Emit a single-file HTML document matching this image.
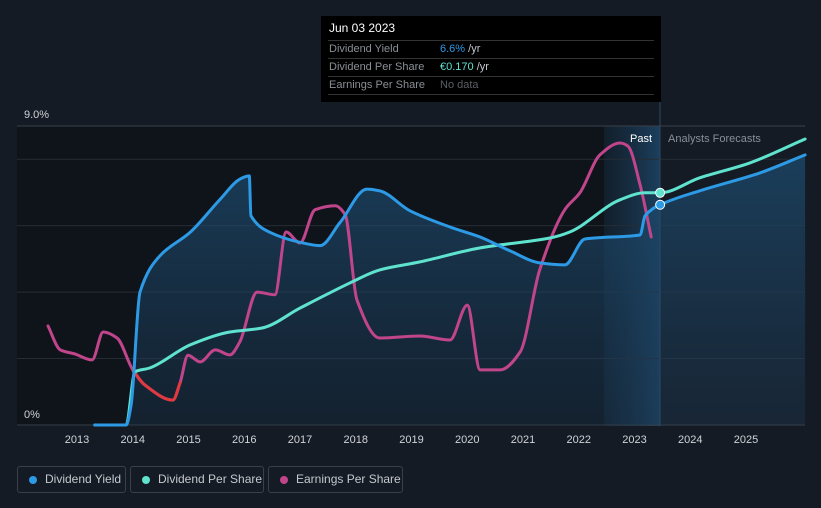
<!DOCTYPE html>
<html><head><meta charset="utf-8">
<style>
html,body{margin:0;padding:0;background:#151b24;}
body{width:821px;height:508px;overflow:hidden;font-family:"Liberation Sans",sans-serif;position:relative;}
.tt{position:absolute;left:321px;top:16px;width:340px;height:86px;background:#000;box-sizing:border-box;padding:0 7px;}
.tt .h{color:#fff;font-size:12px;height:24px;line-height:24px;border-bottom:1px solid #333;padding-left:1px;}
.tt .r{font-size:11px;color:#8a8f96;height:17px;line-height:17px;border-bottom:1px solid #333;display:flex;padding-left:1px;}
.tt .r span.l{width:111px;}
.leg{position:absolute;top:466px;height:27px;border:1px solid #3a4049;border-radius:3px;box-sizing:border-box;color:#c5c9ce;font-size:12px;line-height:25px;padding-left:27px;white-space:nowrap;}
.leg i{position:absolute;left:11px;top:9px;width:8px;height:8px;border-radius:50%;}
</style></head><body>
<svg id="chart" width="821" height="508" style="position:absolute;left:0;top:0">
<defs>
<linearGradient id="fillg" x1="0" y1="0" x2="0" y2="1"><stop offset="0" stop-color="#1c4a6e" stop-opacity="0.75"/><stop offset="1" stop-color="#1c3a55" stop-opacity="0.35"/></linearGradient>
<linearGradient id="hl" x1="0" y1="0" x2="1" y2="0"><stop offset="0" stop-color="#1a3a55" stop-opacity="0.3"/><stop offset="1" stop-color="#1f4a6e" stop-opacity="0.8"/></linearGradient>
</defs>
<rect x="17" y="126" width="643" height="300" fill="#0f141b"/>
<rect x="604" y="126" width="56" height="300" fill="url(#hl)"/>
<g id="grid"></g>
<g id="marks"></g>
<text x="24" y="118" fill="#d0d3d7" font-size="11">9.0%</text>
<text x="24" y="418" fill="#d0d3d7" font-size="11">0%</text>
<text x="652" y="142" fill="#ffffff" font-size="11" text-anchor="end">Past</text>
<text x="668" y="142" fill="#8a8f96" font-size="11">Analysts Forecasts</text>
<g id="xticks"></g>
</svg>
<div class="tt">
<div class="h">Jun 03 2023</div>
<div class="r"><span class="l">Dividend Yield</span><span><span style="color:#2d9ae6">6.6%</span> <span style="color:#c5c9ce">/yr</span></span></div>
<div class="r"><span class="l">Dividend Per Share</span><span><span style="color:#5fe3cf">€0.170</span> <span style="color:#c5c9ce">/yr</span></span></div>
<div class="r"><span class="l">Earnings Per Share</span><span style="color:#5a5f66">No data</span></div>
</div>
<div class="leg" style="left:17px;width:109px"><i style="background:#2d9ae6"></i>Dividend Yield</div>
<div class="leg" style="left:130px;width:134px"><i style="background:#5fe3cf"></i>Dividend Per Share</div>
<div class="leg" style="left:268px;width:135px"><i style="background:#c1458b"></i>Earnings Per Share</div>
<script>
const xTicks=[2013,2014,2015,2016,2017,2018,2019,2020,2021,2022,2023,2024,2025];
const gridValues=[0,2,4,6,8,9];
const yieldYears=[2013.32,2013.88,2013.97,2014.13,2014.49,2015.03,2015.57,2015.92,2016.09,2016.12,2016.46,2017.0,2017.36,2017.72,2018.2,2018.43,2018.97,2019.69,2020.23,2020.77,2021.3,2021.75,2022.11,2023.1,2023.19,2023.46,2024.17,2025.25,2026.06];
const yieldValues=[0,0,0.6,4.0,5.1,5.8,6.8,7.4,7.5,6.3,5.8,5.5,5.4,6.1,7.1,7.05,6.45,5.96,5.66,5.24,4.88,4.82,5.6,5.72,6.3,6.63,7.05,7.59,8.13];
const dpsYears=[2013.32,2013.88,2014.04,2014.31,2015.03,2015.74,2016.32,2017.0,2017.9,2018.43,2019.15,2020.23,2021.48,2021.84,2022.74,2023.19,2023.46,2024.17,2025.07,2026.06];
const dpsValues=[0,0,1.6,1.72,2.41,2.8,2.92,3.52,4.28,4.67,4.91,5.33,5.63,5.81,6.78,6.99,6.99,7.44,7.89,8.61];
const epsYears=[2012.48,2012.7,2012.96,2013.27,2013.47,2013.72,2014.0,2014.22,2014.72,2014.85,2014.99,2015.21,2015.48,2015.74,2015.92,2016.23,2016.55,2016.75,2017.0,2017.27,2017.63,2017.81,2018.02,2018.43,2019.15,2019.69,2020.0,2020.23,2020.59,2020.95,2021.3,2021.75,2022.02,2022.38,2022.74,2022.88,2023.1,2023.3];
const epsValues=[2.98,2.26,2.14,1.96,2.8,2.62,1.66,1.2,0.75,1.27,2.1,1.9,2.26,2.11,2.5,4.0,3.92,5.81,5.48,6.48,6.6,6.33,3.77,2.62,2.68,2.56,3.61,1.66,1.66,2.2,4.67,6.48,6.99,8.13,8.49,8.4,7.23,5.66];
const epsNegStart=6, epsNegEnd=9;
const X=y=>77+(y-2013)*55.75;
const Y=v=>425-v*33.22;
const NS='http://www.w3.org/2000/svg';
function mk(t,a,p){const e=document.createElementNS(NS,t);for(const k in a)e.setAttribute(k,a[k]);p.appendChild(e);return e;}
function smooth(xs,vs){
  const P=xs.map((y,i)=>[X(y),Y(vs[i])]);const n=P.length;
  const d=[],m=[];
  for(let i=0;i<n-1;i++)d.push((P[i+1][1]-P[i][1])/((P[i+1][0]-P[i][0])||1e-6));
  for(let i=0;i<n;i++){if(i==0)m.push(d[0]);else if(i==n-1)m.push(d[n-2]);else m.push(d[i-1]*d[i]<=0?0:2/(1/d[i-1]+1/d[i]));}
  let s='M'+P[0][0].toFixed(1)+','+P[0][1].toFixed(1);
  for(let i=0;i<n-1;i++){const h=P[i+1][0]-P[i][0];
    s+=' C'+(P[i][0]+h/3).toFixed(1)+','+(P[i][1]+m[i]*h/3).toFixed(1)+' '+(P[i+1][0]-h/3).toFixed(1)+','+(P[i+1][1]-m[i+1]*h/3).toFixed(1)+' '+P[i+1][0].toFixed(1)+','+P[i+1][1].toFixed(1);}
  return s;}
const grid=document.getElementById('grid'),marks=document.getElementById('marks'),xt=document.getElementById('xticks');
gridValues.forEach(v=>{const l=mk('line',{x1:17,x2:805,y1:Y(v),y2:Y(v),stroke:v==0||v==9?'#3a4049':'#262c35','stroke-width':1},grid);

});
xTicks.forEach(t=>{const e=mk('text',{x:X(t),y:443,fill:'#d0d3d7','font-size':11,'text-anchor':'middle'},xt);e.textContent=t;

});
const yPath=smooth(yieldYears,yieldValues);
const area=mk('path',{d:yPath+' L'+X(yieldYears[yieldYears.length-1])+','+Y(0)+' L'+X(yieldYears[0])+','+Y(0)+'Z',fill:'url(#fillg)'},marks);


const common={fill:'none','stroke-width':3,'stroke-linejoin':'round','stroke-linecap':'round'};
const eps=mk('path',Object.assign({d:smooth(epsYears,epsValues),stroke:'#c1458b'},common),marks);


const neg=mk('path',Object.assign({d:smooth(epsYears.slice(epsNegStart,epsNegEnd+1),epsValues.slice(epsNegStart,epsNegEnd+1)),stroke:'#e0393e'},common),marks);


const dps=mk('path',Object.assign({d:smooth(dpsYears,dpsValues),stroke:'#5fe3cf'},common),marks);


const dy=mk('path',Object.assign({d:yPath,stroke:'#2d9ae6'},common),marks);


const cut=mk('line',{x1:660,x2:660,y1:100,y2:426,stroke:'#2a4a66','stroke-width':1},marks);


const d1=mk('circle',{cx:X(2023.46),cy:Y(6.99),r:4.5,fill:'#5fe3cf',stroke:'#fff','stroke-width':1},marks);


const d2=mk('circle',{cx:X(2023.46),cy:Y(6.63),r:4.5,fill:'#2d9ae6',stroke:'#fff','stroke-width':1},marks);


</script>
</body></html>
